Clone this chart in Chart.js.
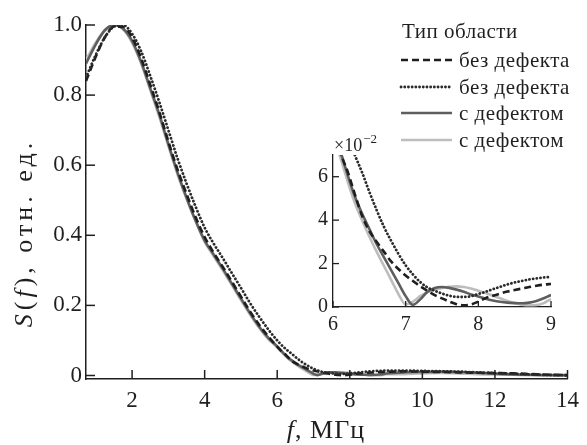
<!DOCTYPE html>
<html lang="ru">
<head>
    <meta charset="UTF-8">
    <title>S(f)</title>
    <script src="https://cdn.jsdelivr.net/npm/chart.js"></script>
    <style>
        body { margin: 0; background: #fff; }
        .wrap { position: relative; width: 587px; height: 445px; }
        #mainChart { position: absolute; left: 0; top: 0; }
        #insetChart { position: absolute; left: 300px; top: 130px; }
    </style>
</head>
<body>
    <div class="wrap">
        <canvas id="mainChart" width="587" height="445"></canvas>
        <canvas id="insetChart" width="262" height="205"></canvas>
    </div>

    <script>
        // frequency, MHz
        const freq = [0.73, 1.0, 1.25, 1.5, 1.75, 2.0, 2.25, 2.5, 2.75, 3.0, 3.25, 3.5, 3.75, 4.0, 4.25, 4.5, 4.75, 5.0, 5.25, 5.5, 5.75, 6.0,
            6.1, 6.2, 6.3, 6.4, 6.5, 6.6, 6.7, 6.8, 6.9, 7.0, 7.1, 7.2, 7.3, 7.4, 7.5, 7.6, 7.7, 7.8, 7.9, 8.0,
            8.1, 8.2, 8.3, 8.4, 8.5, 8.6, 8.7, 8.8, 8.9, 9.0, 9.5, 10, 10.5, 11, 11.5, 12, 12.5, 13, 13.5, 14];

        // без дефекта (штрих)
        const noDefectDash = [0.84, 0.91, 0.965, 0.995, 0.995, 0.965, 0.905, 0.83, 0.752, 0.668, 0.588, 0.518, 0.452, 0.395, 0.35, 0.31, 0.268, 0.225, 0.183, 0.145, 0.112, 0.082,
            0.071, 0.0625, 0.052, 0.042, 0.035, 0.030, 0.0255, 0.021, 0.0175, 0.0145, 0.012, 0.0095, 0.0075, 0.0055, 0.004, 0.0025, 0.0013, 0.0008, 0.0012, 0.0025,
            0.0041, 0.0052, 0.0062, 0.0071, 0.0078, 0.0085, 0.0092, 0.0098, 0.0103, 0.0106, 0.012, 0.011, 0.010, 0.009, 0.008, 0.007, 0.006, 0.004, 0.002, 0.001];

        // без дефекта (точки)
        const noDefectDot = [0.85, 0.915, 0.965, 0.995, 1.0, 0.975, 0.925, 0.855, 0.78, 0.70, 0.62, 0.548, 0.482, 0.422, 0.376, 0.335, 0.292, 0.25, 0.207, 0.168, 0.132, 0.100,
            0.089, 0.079, 0.070, 0.062, 0.053, 0.0447, 0.037, 0.0305, 0.0245, 0.0192, 0.015, 0.0115, 0.009, 0.0075, 0.0062, 0.0052, 0.0047, 0.0046, 0.005, 0.006,
            0.007, 0.0082, 0.0093, 0.0104, 0.0113, 0.012, 0.0127, 0.0132, 0.0136, 0.0138, 0.014, 0.013, 0.012, 0.011, 0.009, 0.007, 0.005, 0.003, 0.0015, 0.0005];

        // с дефектом (тёмная)
        const defectDark = [0.89, 0.945, 0.985, 1.0, 0.99, 0.955, 0.895, 0.82, 0.745, 0.66, 0.58, 0.508, 0.442, 0.385, 0.345, 0.305, 0.262, 0.22, 0.178, 0.14, 0.108, 0.083,
            0.072, 0.061, 0.051, 0.043, 0.036, 0.029, 0.023, 0.017, 0.011, 0.005, 0.001, 0.0035, 0.007, 0.0088, 0.0092, 0.0088, 0.008, 0.007, 0.0058, 0.0048,
            0.0038, 0.003, 0.0024, 0.002, 0.0018, 0.0017, 0.002, 0.0028, 0.004, 0.0055, 0.009, 0.010, 0.011, 0.010, 0.008, 0.005, 0.003, 0.002, 0.001, 0.001];

        // с дефектом (светлая)
        const defectLight = [0.90, 0.95, 0.985, 1.0, 0.988, 0.95, 0.89, 0.815, 0.738, 0.655, 0.575, 0.505, 0.44, 0.382, 0.34, 0.30, 0.258, 0.215, 0.174, 0.136, 0.104, 0.080,
            0.069, 0.058, 0.048, 0.040, 0.0325, 0.0255, 0.019, 0.0125, 0.006, 0.0012, 0.0025, 0.005, 0.0068, 0.008, 0.0088, 0.0093, 0.0095, 0.0092, 0.0085, 0.0075,
            0.0064, 0.0052, 0.004, 0.0028, 0.0018, 0.0011, 0.0008, 0.0009, 0.0018, 0.0035, 0.004, 0.006, 0.007, 0.006, 0.004, 0.003, 0.002, 0.001, 0.0005, 0];

        const xTicks = [2, 4, 6, 8, 10, 12, 14];
        const yTicks = [0, 0.2, 0.4, 0.6, 0.8, 1.0];
        const insetXTicks = [6, 7, 8, 9];
        const insetYTicks = [0, 2, 4, 6];
        const legendTitle = 'Тип области';
        const seriesNames = ['без дефекта', 'без дефекта', 'с дефектом', 'с дефектом'];

        const SERIF = '"Liberation Serif", "DejaVu Serif", serif';
        const INK = '#1f1f1f';

        const styles = [
            { borderColor: '#1e1e1e', borderWidth: 2.6, borderDash: [7, 4], borderCapStyle: 'butt' },
            { borderColor: '#2b2b2b', borderWidth: 2.8, borderDash: [0.1, 3.6], borderCapStyle: 'round' },
            { borderColor: '#5e5e5e', borderWidth: 2.6, borderDash: [], borderCapStyle: 'butt' },
            { borderColor: '#bdbdbd', borderWidth: 2.6, borderDash: [], borderCapStyle: 'butt' }
        ];
        const seriesData = [noDefectDash, noDefectDot, defectDark, defectLight];

        function makeDatasets(k) {
            // dotted drawn on top, light grey at the bottom
            return seriesData.map((arr, i) => Object.assign({
                label: seriesNames[i],
                data: freq.map((f, j) => ({ x: f, y: arr[j] * k })),
                pointRadius: 0,
                cubicInterpolationMode: 'monotone',
                fill: false,
                order: [1, 0, 2, 3][i]
            }, styles[i]));
        }

        function line(ctx, x1, y1, x2, y2) {
            ctx.beginPath(); ctx.moveTo(x1, y1); ctx.lineTo(x2, y2); ctx.stroke();
        }

        // text with mixed italic / upright parts, centred on x
        function drawRich(ctx, parts, x, y) {
            let w = 0;
            parts.forEach(p => { ctx.font = p[1]; w += ctx.measureText(p[0]).width; });
            let cx = x - w / 2;
            parts.forEach(p => { ctx.font = p[1]; ctx.fillText(p[0], cx, y); cx += ctx.measureText(p[0]).width; });
        }

        const mainDecor = {
            id: 'mainDecor',
            afterDraw(chart) {
                const { ctx, chartArea: a, scales: { x, y } } = chart;
                ctx.save();
                ctx.strokeStyle = INK;
                ctx.lineWidth = 1.5;
                xTicks.forEach(v => { const px = x.getPixelForValue(v); line(ctx, px, a.bottom, px, a.bottom - 9); });
                yTicks.forEach(v => { const py = y.getPixelForValue(v); line(ctx, a.left, py, a.left + 9, py); });

                ctx.fillStyle = INK;
                ctx.textBaseline = 'middle';
                const up = '26px ' + SERIF, it = 'italic 26px ' + SERIF;
                ctx.letterSpacing = '1px';
                drawRich(ctx, [['f', it], [', МГц', up]], 326, 431);

                ctx.save();
                ctx.translate(25, 233);
                ctx.rotate(-Math.PI / 2);
                ctx.letterSpacing = '4px';
                drawRich(ctx, [['S', it], ['(', up], ['f', it], ['), отн. ед.', up]], 0, 0);
                ctx.restore();

                // legend
                ctx.letterSpacing = '0.5px';
                ctx.font = '21px ' + SERIF;
                ctx.textAlign = 'left';
                ctx.fillText(legendTitle, 402, 32);
                const rows = [60, 87, 113, 140];
                seriesNames.forEach((name, i) => {
                    const s = styles[i];
                    ctx.strokeStyle = s.borderColor;
                    ctx.lineWidth = s.borderWidth;
                    ctx.lineCap = s.borderCapStyle;
                    ctx.setLineDash(s.borderDash);
                    line(ctx, 401, rows[i], 452, rows[i]);
                    ctx.setLineDash([]);
                    ctx.fillStyle = INK;
                    ctx.fillText(name, 459, rows[i] + 1);
                });
                ctx.restore();
            }
        };

        const insetDecor = {
            id: 'insetDecor',
            afterDraw(chart) {
                const { ctx, chartArea: a, scales: { x, y } } = chart;
                ctx.save();
                ctx.strokeStyle = INK;
                ctx.lineWidth = 1.3;
                insetXTicks.forEach(v => { const px = x.getPixelForValue(v); line(ctx, px, a.bottom, px, a.bottom - 6); });
                insetYTicks.forEach(v => { const py = y.getPixelForValue(v); line(ctx, a.left, py, a.left + 6, py); });
                ctx.fillStyle = INK;
                ctx.textBaseline = 'alphabetic';
                ctx.font = '18px ' + SERIF;
                ctx.fillText('×10', a.left + 1, a.top - 4);
                const w = ctx.measureText('×10').width;
                ctx.font = '13px ' + SERIF;
                ctx.fillText('−2', a.left + 1 + w + 1, a.top - 12);
                ctx.restore();
            }
        };

        const tickFont = { family: SERIF, size: 23 };

        new Chart(document.getElementById('mainChart'), {
            type: 'line',
            data: { datasets: makeDatasets(1) },
            options: {
                responsive: false,
                animation: false,
                layout: { padding: { left: 0, top: 25, right: 19, bottom: 0 } },
                plugins: { legend: { display: false }, tooltip: { enabled: false } },
                scales: {
                    x: {
                        type: 'linear', min: 0.73, max: 14,
                        afterBuildTicks: s => { s.ticks = xTicks.map(v => ({ value: v })); },
                        afterFit: s => { s.height = 66; },
                        grid: { display: false, drawTicks: false },
                        border: { color: INK, width: 1.5 },
                        ticks: { font: tickFont, color: INK, padding: 8, maxRotation: 0 }
                    },
                    y: {
                        type: 'linear', min: -0.01, max: 1.0,
                        afterBuildTicks: s => { s.ticks = yTicks.map(v => ({ value: v })); },
                        afterFit: s => { s.width = 86; },
                        grid: { display: false, drawTicks: false },
                        border: { color: INK, width: 1.5 },
                        ticks: { font: tickFont, color: INK, padding: 4, callback: v => v === 0 ? '0' : v.toFixed(1) }
                    }
                }
            },
            plugins: [mainDecor]
        });

        new Chart(document.getElementById('insetChart'), {
            type: 'line',
            data: { datasets: makeDatasets(100) },
            options: {
                responsive: false,
                animation: false,
                layout: { padding: { left: 0, top: 25, right: 9, bottom: 0 } },
                plugins: { legend: { display: false }, tooltip: { enabled: false } },
                scales: {
                    x: {
                        type: 'linear', min: 6, max: 9,
                        afterBuildTicks: s => { s.ticks = insetXTicks.map(v => ({ value: v })); },
                        afterFit: s => { s.height = 28; },
                        grid: { display: false, drawTicks: false },
                        border: { color: INK, width: 1.3 },
                        ticks: { font: { family: SERIF, size: 20 }, color: INK, padding: 6, maxRotation: 0 }
                    },
                    y: {
                        type: 'linear', min: 0, max: 7,
                        afterBuildTicks: s => { s.ticks = insetYTicks.map(v => ({ value: v })); },
                        afterFit: s => { s.width = 33; },
                        grid: { display: false, drawTicks: false },
                        border: { color: INK, width: 1.3 },
                        ticks: { font: { family: SERIF, size: 20 }, color: INK, padding: 5 }
                    }
                }
            },
            plugins: [insetDecor]
        });
    </script>
</body>
</html>
